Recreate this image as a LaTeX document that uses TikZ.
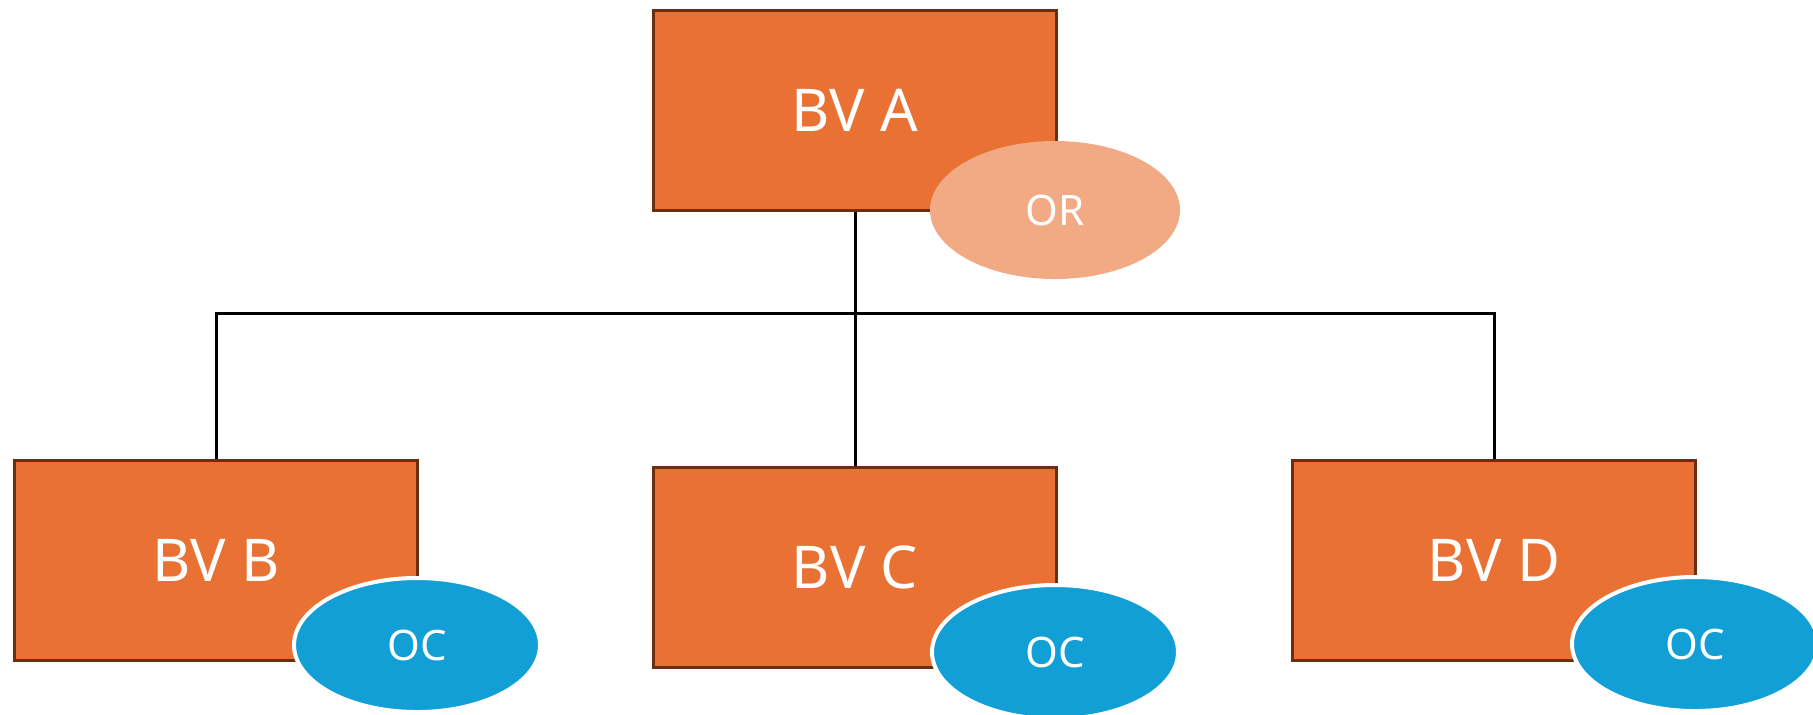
\documentclass[tikz,border=0pt]{standalone}
\usepackage{fontspec}
\setmainfont{Noto Sans}
\usetikzlibrary{shapes.geometric}
\definecolor{bvfill}{HTML}{E97133}
\definecolor{bvline}{HTML}{6B2F10}
\definecolor{orfill}{HTML}{F2AA84}
\definecolor{ocfill}{HTML}{119FD6}
\tikzset{
	bvbox/.style={draw=bvline, line width=1.5pt, fill=bvfill, minimum width=201.5pt, minimum height=100pt, inner sep=0pt, text=white, font=\fontsize{29.5}{35}\selectfont},
	orbadge/.style={ellipse, fill=orfill, minimum width=125pt, minimum height=69pt, inner sep=0pt, text=white, font=\fontsize{21}{25}\selectfont},
	ocbadge/.style={ellipse, draw=white, line width=2pt, fill=ocfill, minimum width=123pt, minimum height=67pt, inner sep=0pt, text=white, font=\fontsize{21}{25}\selectfont},
	link/.style={line width=1.5pt, black}
}
\begin{document}
\begin{tikzpicture}[x=0.5pt, y=-0.5pt]
			%%%%% START %%%%%
			\useasboundingbox (0, 0) rectangle (1813, 714);
			
			\node[bvbox] (bva) at (855, 110) {BV A};
			\node[bvbox] (bvb) at (216, 560) {BV B};
			\node[bvbox] (bvc) at (855, 567) {BV C};
			\node[bvbox] (bvd) at (1494, 560) {BV D};
			
			\node[orbadge] (ora) at (1055, 210) {OR};
			\node[ocbadge] (ocb) at (417, 645) {OC};
			\node[ocbadge] (occ) at (1055, 652) {OC};
			\node[ocbadge] (ocd) at (1695, 644) {OC};
			
			\coordinate (busl) at (216, 313);
			\coordinate (busr) at (1494, 313);
			
			\draw[link] (bva.south) -- (bvc.north);
			\draw[link] (bvb.north) -- (busl) -- (busr) -- (bvd.north);
			
			%%%%% END %%%%%
\end{tikzpicture}
\end{document}
